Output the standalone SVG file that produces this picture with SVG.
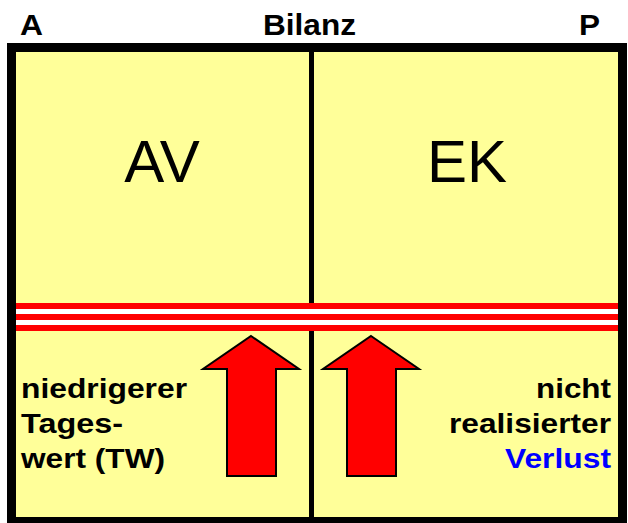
<svg xmlns="http://www.w3.org/2000/svg" width="628" height="523" viewBox="0 0 628 523">
<style>
.b{font-family:"Liberation Sans",Arial,sans-serif;font-weight:bold;font-size:28px;fill:#000}
.t{font-size:29px}
.big{font-family:"Liberation Sans",Arial,sans-serif;font-size:60px;fill:#000;text-anchor:middle}
.arrow{fill:#ff0000;stroke:#000;stroke-width:2;stroke-linejoin:miter}
.red{fill:#ff0000}
</style>
<rect width="628" height="523" fill="#fff"/>
<g id="titles">
<text class="b t" x="20" y="35" textLength="23" lengthAdjust="spacingAndGlyphs">A</text>
<text class="b t" x="263" y="35" textLength="93" lengthAdjust="spacingAndGlyphs">Bilanz</text>
<text class="b t" x="579" y="35" textLength="21" lengthAdjust="spacingAndGlyphs">P</text>
</g>
<g id="frame">
<rect x="11.5" y="47.5" width="611" height="474" fill="#ffff99" stroke="#000" stroke-width="9"/>
<rect x="309" y="52" width="5" height="251" fill="#000"/>
<rect x="309" y="331" width="5" height="186" fill="#000"/>
</g>
<g id="stripes">
<rect x="16" y="303" width="602" height="28" fill="#fff"/>
<rect class="red" x="16" y="303" width="602" height="6"/>
<rect class="red" x="16" y="314" width="602" height="6"/>
<rect class="red" x="16" y="325" width="602" height="6"/>
</g>
<g id="AV"><text class="big" x="162" y="182">AV</text></g>
<g id="EK"><text class="big" x="467" y="182">EK</text></g>
<g id="connectors">
<polygon class="arrow" points="251,336 299,369 276,369 276,476 227,476 227,369 203,369"/>
<polygon class="arrow" points="371,336 419,369 396,369 396,476 347,476 347,369 323,369"/>
</g>
<g id="left-text">
<text class="b" x="21" y="398" textLength="166" lengthAdjust="spacingAndGlyphs">niedrigerer</text>
<text class="b" x="21" y="433" textLength="102" lengthAdjust="spacingAndGlyphs">Tages-</text>
<text class="b" x="21" y="468" textLength="144" lengthAdjust="spacingAndGlyphs">wert (TW)</text>
</g>
<g id="right-text">
<text class="b" x="536" y="398" textLength="75" lengthAdjust="spacingAndGlyphs">nicht</text>
<text class="b" x="449" y="433" textLength="162" lengthAdjust="spacingAndGlyphs">realisierter</text>
<text class="b" x="505" y="468" textLength="106" lengthAdjust="spacingAndGlyphs" style="fill:#0000ff">Verlust</text>
</g>
</svg>
